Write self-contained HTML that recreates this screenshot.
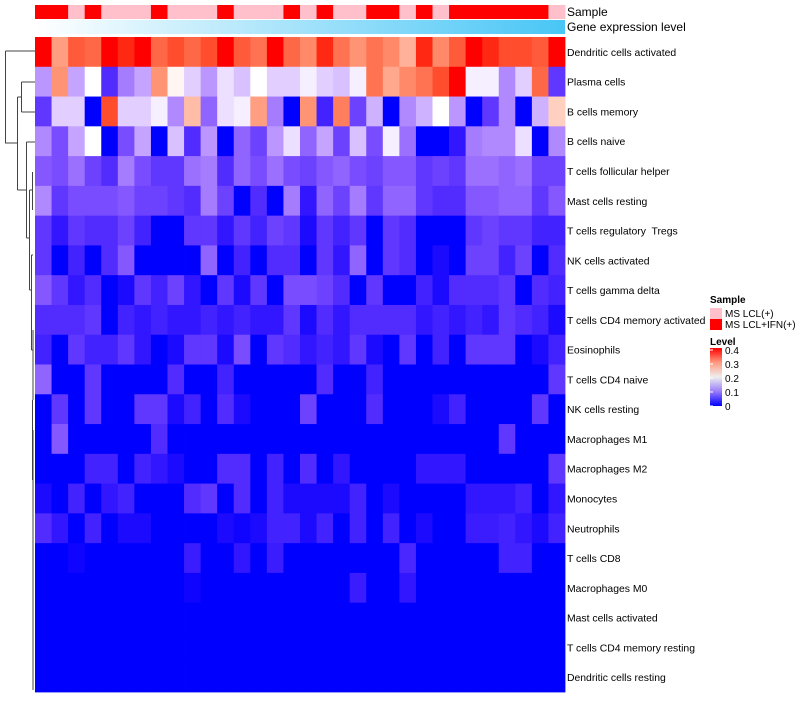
<!DOCTYPE html>
<html><head><meta charset="utf-8"><style>
body{margin:0;background:#fff;}
svg text{font-family:"Liberation Sans",sans-serif;white-space:pre;}
</style></head><body>
<svg id="chart" width="800" height="700" xmlns="http://www.w3.org/2000/svg">
<defs>
<linearGradient id="geneGrad" x1="0" x2="1" y1="0" y2="0"><stop offset="0" stop-color="#ffffff"/><stop offset="1" stop-color="#48c6f6"/></linearGradient>
<linearGradient id="levelGrad" x1="0" x2="0" y1="1" y2="0"><stop offset="0" stop-color="#0000ff"/><stop offset="0.25" stop-color="#9a7cf9"/><stop offset="0.5" stop-color="#eeeeee"/><stop offset="0.75" stop-color="#ff9a80"/><stop offset="1" stop-color="#ff0000"/></linearGradient>
</defs>
<g id="annot"></g>
<g id="cells"></g>
<g id="labels"></g>
<g id="dendro" stroke="#444" stroke-width="1" fill="none">
<path d="M5.5 51 H35 M5.5 51 V143 H17.5 M17.5 97 V190 M17.5 97 H21.5 M21.5 82 V112 M21.5 82 H35 M21.5 112 H35 M17.5 190 H26.5 M26.5 142 V238 M26.5 142 H35 M26.5 238 H29.5 M29.5 190 V290 M29.5 190 H32.5 M32.5 172 V210 M29.5 290 H31.5 M31.5 255 V350 M31.5 255 H33 M31.5 350 H33 M33 330 V400 M33 430 V690 M32.5 400 V480"/>
</g>
<g font-size="12" fill="#000">
<text x="567" y="16">Sample</text>
<text x="567" y="31">Gene expression level</text>
</g>
<g font-size="10" fill="#000">
<text x="710" y="303" font-weight="bold">Sample</text>
<rect x="710" y="308" width="12" height="11" fill="#ffc0cb"/>
<text x="725" y="317">MS LCL(+)</text>
<rect x="710" y="319" width="12" height="11" fill="#ff0000"/>
<text x="725" y="328">MS LCL+IFN(+)</text>
<text x="710" y="345" font-weight="bold">Level</text>
<rect x="710" y="348" width="12" height="58" fill="url(#levelGrad)"/>
<g id="levelTicks"></g>
</g>
</svg>
<script>
const rowNames=["Dendritic cells activated","Plasma cells","B cells memory","B cells naive","T cells follicular helper","Mast cells resting","T cells regulatory  Tregs","NK cells activated","T cells gamma delta","T cells CD4 memory activated","Eosinophils","T cells CD4 naive","NK cells resting","Macrophages M1","Macrophages M2","Monocytes","Neutrophils","T cells CD8","Macrophages M0","Mast cells activated","T cells CD4 memory resting","Dendritic cells resting"];
const sampleGroups=[1,1,0,1,0,0,0,1,0,0,0,1,0,0,0,1,0,1,0,0,1,1,0,1,0,1,1,1,1,1,1,0];
const levelTicks=[0,0.1,0.2,0.3,0.4];
const levelTickLabels=["0","0.1","0.2","0.3","0.4"];
const r01=[.4,.3,.36,.35,.4,.39,.4,.35,.37,.35,.37,.4,.36,.34,.4,.35,.32,.39,.34,.31,.34,.32,.28,.39,.32,.36,.4,.39,.37,.37,.36,.4];
const r02=[.13,.31,.14,.2,.04,.11,.14,.31,.21,.17,.13,.18,.16,.2,.17,.17,.19,.17,.16,.19,.34,.29,.32,.34,.37,.4,.19,.19,.12,.17,.35,.05];
const r03=[.05,.17,.17,0,.37,.17,.17,.19,.12,.27,.09,.18,.19,.3,.11,0,.31,.03,.33,.06,.15,0,.12,.15,.2,.13,0,.05,.12,0,.15,.25];
const r04=[.12,.07,.14,.2,0,.07,.14,0,.16,.04,.13,0,.09,.06,.13,.18,.09,.14,.06,.16,.07,.19,.1,0,0,.02,.11,.12,.12,.18,0,.12];
const r05=[.08,.07,.1,.06,.04,.11,.07,.05,.05,.1,.11,.04,.09,.07,.1,.07,.06,.08,.09,.07,.06,.08,.08,.05,.06,.05,.1,.1,.09,.1,.06,.06];
const r06=[.12,.05,.07,.07,.07,.08,.06,.06,.05,.04,.11,.06,0,.04,0,.11,.02,.09,.06,.11,.05,.09,.09,.05,.04,.04,.08,.08,.09,.09,.05,.08];
const r07=[.05,.02,.05,.04,.04,.06,.03,0,0,.05,.05,.02,.05,.03,.06,.05,.01,.05,.03,.05,0,.05,.04,0,0,0,.05,.06,.05,.05,.03,.03];
const r08=[.05,0,.03,0,.04,.08,0,0,0,0,.09,0,.03,0,.04,.04,0,.05,.02,.09,0,.05,.04,0,.01,0,.06,.06,.03,.06,0,.04];
const r09=[.08,.05,.02,.04,0,.01,.05,.03,.06,.02,0,.05,.01,.05,0,.07,.07,.06,.04,0,.05,0,0,.03,.01,.04,.04,.04,.05,0,.04,.03];
const r10=[.04,.04,.04,.05,0,.03,.02,.03,.02,.02,.03,.02,.03,.02,.02,.05,.01,.04,.02,.04,.04,.04,.04,.02,.03,.02,.03,.02,.05,.04,.03,.01];
const r11=[.03,0,.05,.03,.03,.05,.02,0,.01,.05,.05,.01,.07,0,.05,.04,.02,.03,.02,.05,.01,0,.05,0,.03,0,.05,.05,.05,0,.01,.03];
const r12=[.09,0,0,.05,0,0,0,0,.04,0,0,.03,0,0,0,0,0,.04,0,0,.03,0,0,0,0,0,0,0,0,0,0,.05];
const r13=[0,.05,0,.05,0,0,.05,.05,.01,.03,0,.04,.01,0,0,0,.06,0,0,0,.04,0,0,0,.01,.03,0,0,0,0,.05,0];
const r14=[0,.08,0,0,0,0,0,.04,0,0,0,0,0,0,0,0,0,0,0,0,0,0,0,0,0,0,0,0,.05,0,0,0];
const r15=[0,0,0,.03,.03,0,.03,.02,.01,0,0,.04,.04,0,.03,0,.04,0,.02,0,0,0,0,.02,.02,.02,0,0,0,0,0,.05];
const r16=[.01,0,.03,0,.02,.03,0,0,0,.04,.05,0,.04,0,.03,.01,.01,.01,.01,.03,0,.01,0,0,0,0,.02,.02,.02,.03,0,.02];
const r17=[.04,.02,0,.03,0,.01,.01,0,0,0,0,.01,.005,.01,.03,.03,.01,.03,0,.03,0,.03,0,.01,0,0,.025,.025,.03,.02,.01,.03];
const r18=[0,0,.005,0,0,0,0,0,0,.025,0,0,.02,0,.025,0,0,0,0,0,0,0,.035,0,0,0,0,0,.03,.03,0,0];
const r19=[0,0,0,0,0,0,0,0,0,.005,0,0,0,0,0,0,0,0,0,.025,0,0,.02,0,0,0,0,0,0,0,0,0];
const r20=[0,0,0,0,0,0,0,0,0,0,0,0,0,0,0,0,0,0,0,0,0,0,0,0,0,0,0,0,0,0,0,0];
const r21=[0,0,0,0,0,0,0,0,0,0,0,0,0,0,0,0,0,0,0,0,0,0,0,0,0,0,0,0,0,0,0,0];
const r22=[0,0,0,0,0,0,0,0,0,0,0,0,0,0,0,0,0,0,0,0,0,0,0,0,0,0,0,0,0,0,0,0];
const matrix=[r01,r02,r03,r04,r05,r06,r07,r08,r09,r10,r11,r12,r13,r14,r15,r16,r17,r18,r19,r20,r21,r22];

const NS="http://www.w3.org/2000/svg";
const X0=35,X1=565,Y0=37,Y1=692;
const nCol=sampleGroups.length,nRow=rowNames.length;
const cw=(X1-X0)/nCol,rh=(Y1-Y0)/nRow;
function xPos(j){return X0+j*cw;}
function yPos(i){return Y0+i*rh;}
function levelY(v){return 406-(v/0.4)*56;}
function s2l(c){c/=255;return c<=0.04045?c/12.92:Math.pow((c+0.055)/1.055,2.4);}
function l2s(c){c=c<=0.0031308?12.92*c:1.055*Math.pow(c,1/2.4)-0.055;return Math.max(0,Math.min(255,Math.round(c*255)));}
function toLab(rgb){const r=s2l(rgb[0]),g=s2l(rgb[1]),b=s2l(rgb[2]);
let x=(0.4124*r+0.3576*g+0.1805*b)/0.95047,y=0.2126*r+0.7152*g+0.0722*b,z=(0.0193*r+0.1192*g+0.9505*b)/1.08883;
const f=t=>t>0.008856?Math.cbrt(t):7.787*t+16/116;x=f(x);y=f(y);z=f(z);return [116*y-16,500*(x-y),200*(y-z)];}
function fromLab(l){let y=(l[0]+16)/116,x=l[1]/500+y,z=y-l[2]/200;
const fi=t=>t*t*t>0.008856?t*t*t:(t-16/116)/7.787;x=fi(x)*0.95047;y=fi(y);z=fi(z)*1.08883;
const r=3.2406*x-1.5372*y-0.4986*z,g=-0.9689*x+1.8758*y+0.0415*z,b=0.0557*x-0.2040*y+1.0570*z;return `rgb(${l2s(r)},${l2s(g)},${l2s(b)})`;}
const LB=toLab([0,0,255]),LW=toLab([255,255,255]),LR=toLab([255,0,0]);
function col(v){v=Math.max(0,Math.min(0.4,v));let a,b,t;if(v<=0.2){a=LB;b=LW;t=Math.pow(v/0.2,1.4);}else{a=LW;b=LR;t=(v-0.2)/0.2;}
return fromLab([a[0]+(b[0]-a[0])*t,a[1]+(b[1]-a[1])*t,a[2]+(b[2]-a[2])*t]);}

const cells=document.getElementById('cells');
for(let i=0;i<nRow;i++){for(let j=0;j<nCol;j++){
const r=document.createElementNS(NS,'rect');
r.setAttribute('x',xPos(j));r.setAttribute('y',yPos(i));r.setAttribute('width',cw+0.4);r.setAttribute('height',rh+0.4);
r.setAttribute('fill',col(matrix[i][j]));


cells.appendChild(r);}}
const annot=document.getElementById('annot');
for(let j=0;j<nCol;j++){
const r=document.createElementNS(NS,'rect');
r.setAttribute('x',xPos(j));r.setAttribute('y',5);r.setAttribute('width',cw+0.4);r.setAttribute('height',14);
r.setAttribute('fill',sampleGroups[j]?'#ff0000':'#ffc0cb');


annot.appendChild(r);}
const g=document.createElementNS(NS,'rect');
g.setAttribute('x',X0);g.setAttribute('y',20);g.setAttribute('width',X1-X0);g.setAttribute('height',14);g.setAttribute('fill','url(#geneGrad)');


annot.appendChild(g);
const labels=document.getElementById('labels');
for(let i=0;i<nRow;i++){
const t=document.createElementNS(NS,'text');
t.setAttribute('x',567);t.setAttribute('y',yPos(i)+rh/2+4);t.setAttribute('font-size','10.4');
t.textContent=rowNames[i];


labels.appendChild(t);}
const lt=document.getElementById('levelTicks');
for(let k=0;k<levelTicks.length;k++){
const y=levelY(levelTicks[k]);
const l=document.createElementNS(NS,'line');
l.setAttribute('x1',710);l.setAttribute('x2',713);l.setAttribute('y1',y);l.setAttribute('y2',y);l.setAttribute('stroke','#fff');


lt.appendChild(l);
const t=document.createElementNS(NS,'text');
t.setAttribute('x',725);t.setAttribute('y',y+4);
t.textContent=levelTickLabels[k];


lt.appendChild(t);}
</script>
</body></html>
